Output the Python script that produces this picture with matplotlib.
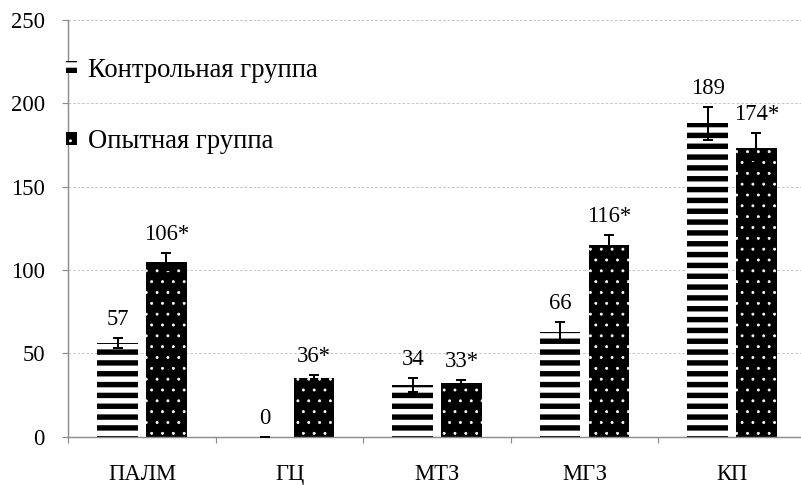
import numpy as np
import matplotlib.pyplot as plt

plt.rcParams['font.family'] = ['Liberation Serif', 'DejaVu Serif']

# Данные графика
categorias = ['ПАЛМ', 'ГЦ', 'МТЗ', 'МГЗ', 'КП']
controle = [56, 0, 31, 63, 188]
controle_err = [3, 0, 4, 6, 10]
controle_rotulos = ['57', '0', '34', '66', '189']
opytnaya = [105, 35, 32, 115, 173]
opytnaya_err = [5, 2, 2, 6, 9]
opytnaya_rotulos = ['106*', '36*', '33*', '116*', '174*']

DPI = 65
fs = 25          # подписи осей и значений
fs_leg = 29.5    # легенда

fig = plt.figure(figsize=(801 / DPI, 485 / DPI), dpi=DPI)
ax = fig.add_axes([68.3 / 801, 48.3 / 485, 737.5 / 801, 416.7 / 485])

x = np.arange(len(categorias))
largura = 0.275
desloc = 0.165

# Контрольная группа: горизонтальные полосы
plt.rcParams['hatch.linewidth'] = 6.0
barras1 = ax.bar(x - desloc, controle, largura, color='white', edgecolor='black',
                 linewidth=0, hatch='-', zorder=2)
# Опытная группа: черный фон с белыми точками
plt.rcParams['hatch.linewidth'] = 0.8
barras2 = ax.bar(x + desloc, opytnaya, largura, color='black', edgecolor='white',
                 linewidth=0, hatch='.', zorder=2)

ax.errorbar(x - desloc, controle, yerr=controle_err, fmt='none', ecolor='black',
            elinewidth=2.2, capsize=5.5, capthick=2.2, zorder=3)
ax.errorbar(x + desloc, opytnaya, yerr=opytnaya_err, fmt='none', ecolor='black',
            elinewidth=2.2, capsize=5.5, capthick=2.2, zorder=3)

for i in range(len(categorias)):
    ax.annotate(controle_rotulos[i], (x[i] - desloc, controle[i] + controle_err[i]),
                xytext=(0, 14.5), textcoords='offset points', ha='center', va='baseline',
                fontsize=fs)
    ax.annotate(opytnaya_rotulos[i], (x[i] + desloc, opytnaya[i] + opytnaya_err[i]),
                xytext=(0, 14.5), textcoords='offset points', ha='center', va='baseline',
                fontsize=fs)

ax.set_xlim(-0.5, len(categorias) - 0.5)
ax.set_ylim(0, 250)
ax.set_yticks(np.arange(0, 251, 50))
ax.set_xticks(x)
ax.set_xticklabels(categorias)
ax.set_xticks(np.arange(-0.5, len(categorias), 1), minor=True)
ax.tick_params(axis='x', which='major', length=0, pad=30, labelsize=fs)
ax.tick_params(axis='x', which='minor', length=6.5, width=1.3, color='#8c8c8c', direction='out')
ax.tick_params(axis='y', length=6.5, width=1.3, color='#8c8c8c', pad=19.5, labelsize=fs)

ax.grid(axis='y', color='#c4c4c4', linestyle=(0, (3, 2)), linewidth=1.0, zorder=0)
ax.set_axisbelow(True)
for lado in ['top', 'right']:
    ax.spines[lado].set_visible(False)
for lado in ['left', 'bottom']:
    ax.spines[lado].set_color('#8c8c8c')
    ax.spines[lado].set_linewidth(1.6)

leg = ax.legend([barras1, barras2], ['Контрольная группа', 'Опытная группа'],
                loc='upper left', bbox_to_anchor=(-0.003, 0.91), frameon=False,
                fontsize=fs_leg, handlelength=0.42, handleheight=0.35, handletextpad=0.42,
                labelspacing=1.75, borderpad=0, borderaxespad=0)
# толщина штриховки для маркеров легенды
for h, lw in zip(leg.legend_handles, [6.0, 0.8]):
    if hasattr(h, 'set_hatch_linewidth'):
        h.set_hatch_linewidth(lw)
    else:
        h._hatch_linewidth = lw

fig.savefig('out.png', dpi=DPI)
